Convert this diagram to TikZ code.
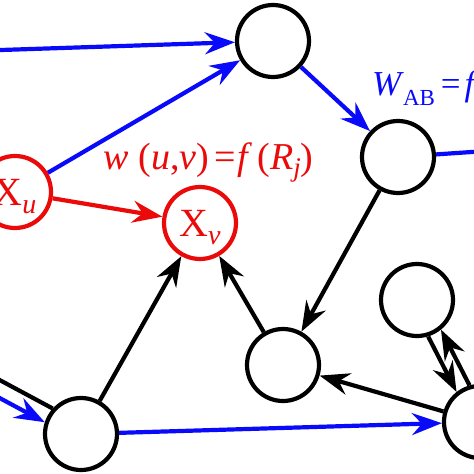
\documentclass[tikz,border=0pt]{standalone}
\usepackage{fontspec}
\setmainfont{LiberationSerif}[Extension=.ttf,UprightFont=*-Regular,ItalicFont=*-Italic,BoldFont=*-Bold,BoldItalicFont=*-BoldItalic]
\usetikzlibrary{arrows.meta,calc}
\definecolor{eblue}{RGB}{10,10,250}
\definecolor{ered}{RGB}{235,10,10}
\newcommand\nfont{\fontsize{40}{42}\selectfont}
\newcommand\lfont{\fontsize{38}{40}\selectfont}
\newcommand\mysub[1]{\smash{\raisebox{-8pt}{\fontsize{28}{28}\selectfont\itshape #1}}}
\begin{document}
\begin{tikzpicture}[x=1pt,y=-1pt,
  vtx/.style={circle,draw=black,line width=4.2pt,minimum size=72pt,inner sep=0pt,fill=white},
  rvtx/.style={vtx,draw=ered,text=ered,font=\nfont},
  edge/.style={line width=4.2pt,-{Stealth[length=30pt,width=22pt,inset=10pt]}},
  bedge/.style={edge,eblue},
  kedge/.style={edge,black},
  redge/.style={edge,ered},
  plainedge/.style={line width=4.2pt}
]
\useasboundingbox (0,0) rectangle (474,474);
\clip (0,0) rectangle (474,474);
\node[vtx] (T) at (273,41) {};
\node[vtx] (R) at (398,157) {};
\node[rvtx] (Xu) at (15,192) {X\mysub{u}};
\node[rvtx] (Xv) at (200,223) {X\mysub{v}};
\node[vtx] (BL) at (81,434) {};
\node[vtx] (M) at (283,365) {};
\node[vtx] (S) at (417,300) {};
\node[vtx] (BR) at (480,422) {};
\coordinate (oT) at (-20,50.7);
\coordinate (oR) at (560,146);
\coordinate (oK) at (-60,348);
\coordinate (oB) at (-60,366);

\draw[bedge] (oT) -- (T);
\draw[bedge] (Xu) -- (T);
\draw[bedge] (T) -- (R);
\draw[bedge] (R) -- (oR);
\draw[redge] (Xu) -- (Xv);
\draw[kedge] (BL) -- (Xv);
\draw[kedge] (M) -- (Xv);
\draw[kedge] (R) -- (M);
\draw[kedge] (BR) -- (M);
\draw[kedge] (S.-73.7) -- (BR.128.3);
\draw[kedge] (BR.106.3) -- (S.-51.7);
\draw[bedge] (BL) -- (BR);
\draw[bedge] (oB) -- (BL.162);
\draw[plainedge] (BL.138) -- (oK);

\node[anchor=base west, text=ered, font=\lfont, inner sep=0pt] (lw) at (103,169)
  {\textit{w}\kern10pt(\textit{u},\textit{v})\kern5pt=\kern2pt\textit{f}\kern5pt(\textit{R}\raisebox{-7pt}{\fontsize{27}{27}\selectfont\itshape j})};
\node[anchor=base west, text=eblue, font=\lfont, inner sep=0pt] (lW) at (372,95)
  {\fontsize{35}{37}\selectfont\textit{W}\kern-1pt\raisebox{-10pt}{\fontsize{23}{23}\selectfont AB}\kern6pt=\kern4pt\textit{f}};
\end{tikzpicture}
\end{document}
